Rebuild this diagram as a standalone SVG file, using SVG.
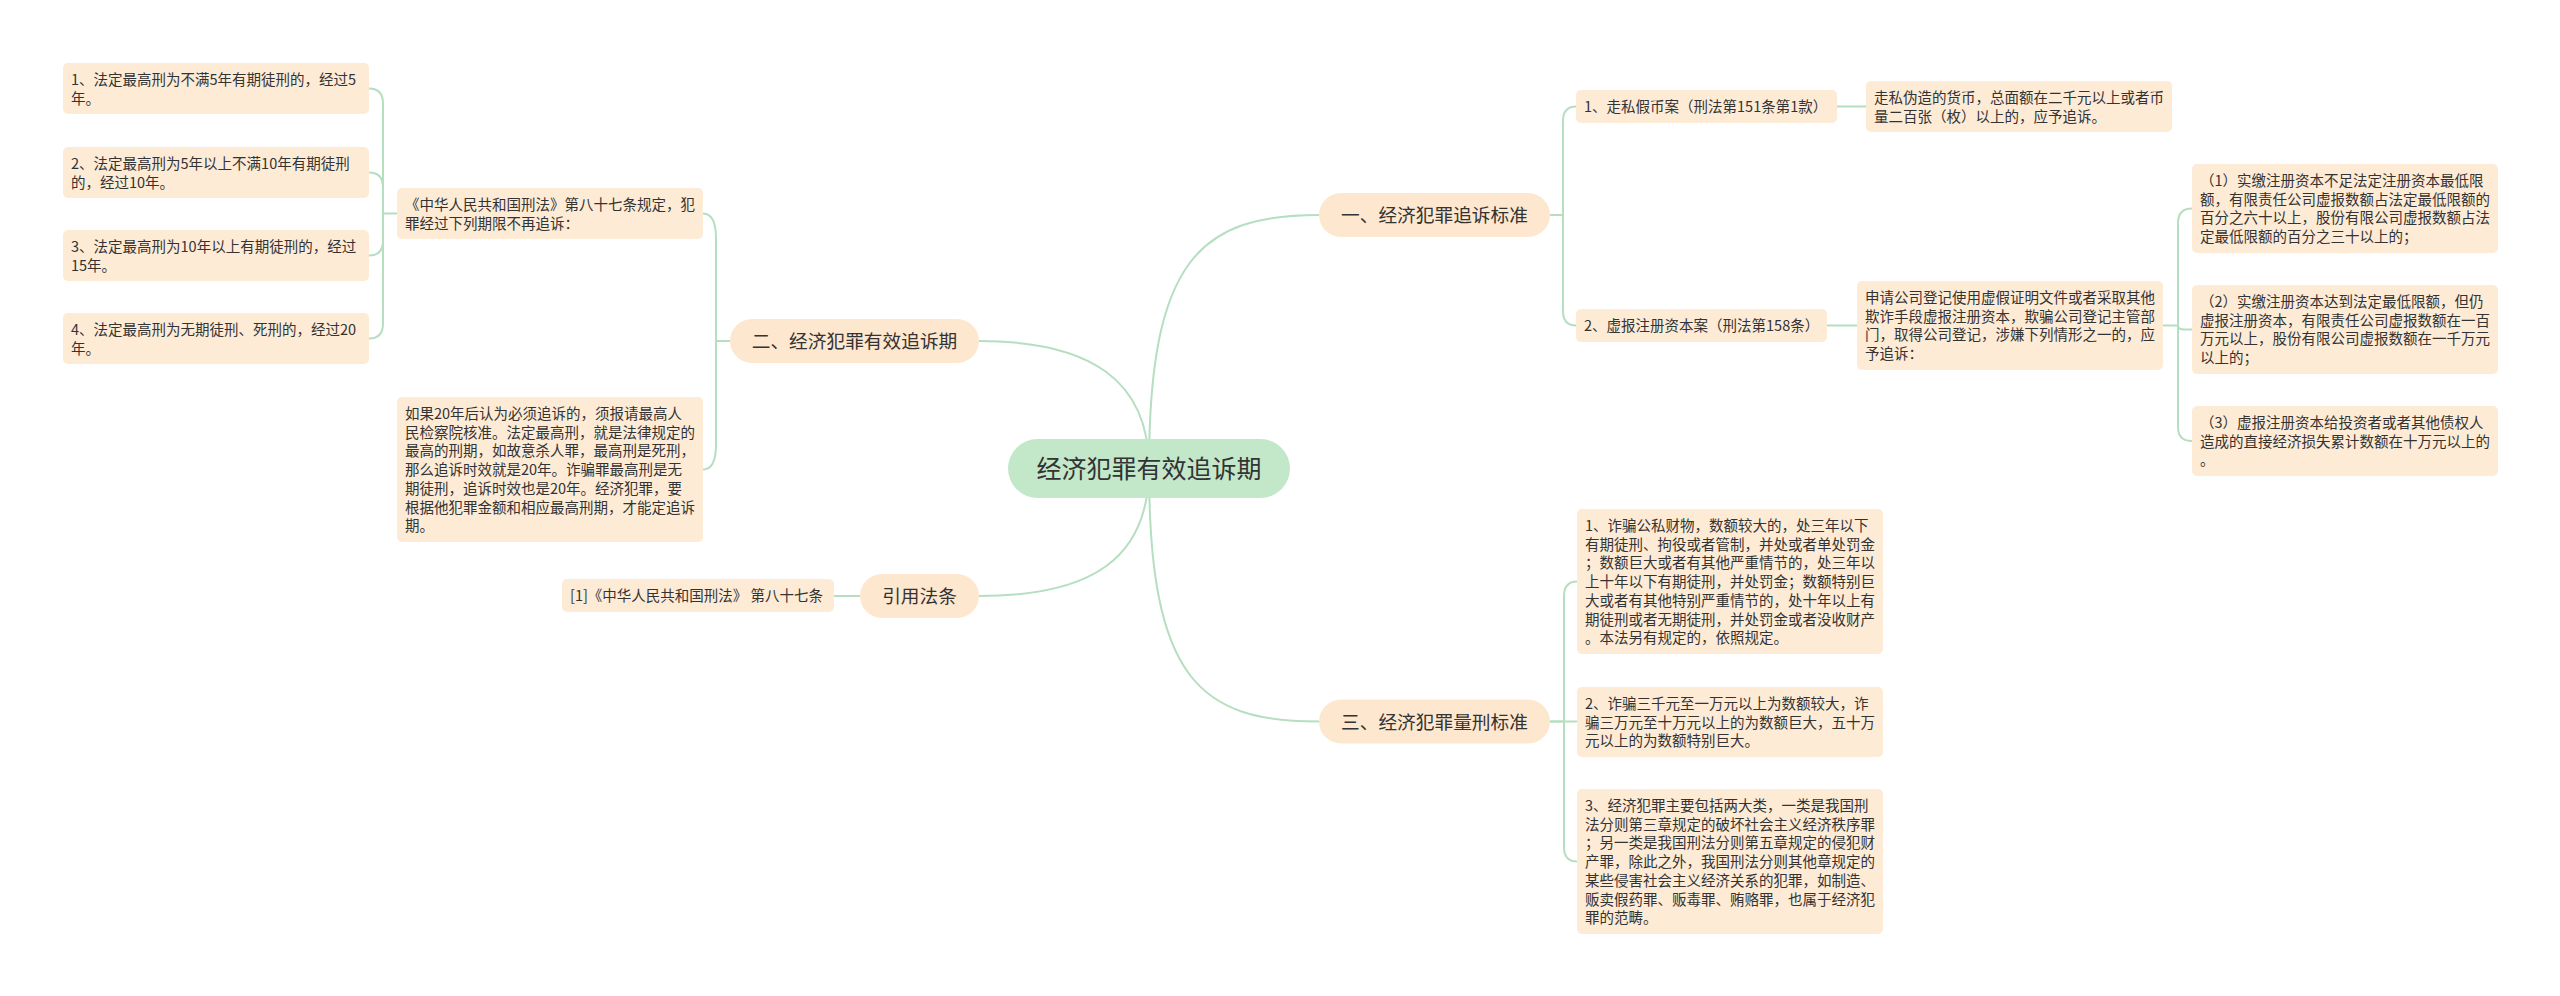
<svg xmlns="http://www.w3.org/2000/svg" width="2560" height="996" viewBox="0 0 2560 996">
<style>
text{font-family:"Noto Sans CJK SC","Noto Sans",sans-serif;fill:#333333}
.leaf{fill:#fdebd6}
.br{fill:#fde7cf}
.root{fill:#c3e8c9}
.lt{font-size:14.5px}
.bt{font-size:18.7px;text-anchor:middle}
.rt{font-size:25px;text-anchor:middle}
.c{fill:none;stroke:#b5dfc0;stroke-width:2}
</style>
<rect width="2560" height="996" fill="#ffffff"/>
<g id="connectors">
<path class="c" d="M1149 468 C1149 260 1200 215 1319 215"/>
<path class="c" d="M1149 468 C1149 380 1090 341 979 341"/>
<path class="c" d="M1149 468 C1149 560 1090 596 979 596"/>
<path class="c" d="M1149 468 C1149 680 1200 721.5 1319 721.5"/>
<path class="c" d="M1550 215 H1563 V121 Q1563 106.5 1576 106.5"/>
<path class="c" d="M1550 215 H1563 V311 Q1563 325.5 1576 325.5"/>
<path class="c" d="M1837 106.5 H1866"/>
<path class="c" d="M1827 325.5 H1857"/>
<path class="c" d="M2163 325.5 H2178 V223 Q2178 208.5 2192 208.5"/>
<path class="c" d="M2178 325.5 Q2178 329.5 2184 329.5 H2192"/>
<path class="c" d="M2178 325.5 V427 Q2178 441 2192 441"/>
<path class="c" d="M1550 721.5 H1564 V596 Q1564 581.5 1577 581.5"/>
<path class="c" d="M1550 721.5 H1577"/>
<path class="c" d="M1564 721.5 V847 Q1564 861.5 1577 861.5"/>
<path class="c" d="M730 341 H716 V238.5 Q716 213.5 703 213.5"/>
<path class="c" d="M716 341 V444.5 Q716 469.5 703 469.5"/>
<path class="c" d="M397 213.5 H383 V103.5 Q383 88.5 369 88.5"/>
<path class="c" d="M383 213.5 V187.5 Q383 172.5 369 172.5"/>
<path class="c" d="M383 213.5 V240.5 Q383 255.5 369 255.5"/>
<path class="c" d="M383 213.5 V323.5 Q383 338.5 369 338.5"/>
<path class="c" d="M860 596 H834"/>
</g>
<g id="root">
<rect class="root" x="1008" y="439" width="282" height="59" rx="29.5"/>
<text class="rt" x="1149" y="478">经济犯罪有效追诉期</text>
</g>
<g id="b1">
<rect class="br" x="1319" y="193" width="231" height="44" rx="22"/>
<text class="bt" x="1434.5" y="222">一、经济犯罪追诉标准</text>
</g>
<g id="b2">
<rect class="br" x="730" y="319" width="249" height="44" rx="22"/>
<text class="bt" x="854.5" y="348">二、经济犯罪有效追诉期</text>
</g>
<g id="b3">
<rect class="br" x="860" y="574" width="119" height="44" rx="22"/>
<text class="bt" x="919.5" y="603">引用法条</text>
</g>
<g id="b4">
<rect class="br" x="1319" y="699.5" width="231" height="44" rx="22"/>
<text class="bt" x="1434.5" y="728.5">三、经济犯罪量刑标准</text>
</g>
<g id="l1">
<rect class="leaf" x="63" y="63" width="306" height="51" rx="5"/>
<text class="lt"><tspan x="71" y="85">1、法定最高刑为不满5年有期徒刑的，经过5</tspan><tspan x="71" y="103.7">年。</tspan></text>
</g>
<g id="l2">
<rect class="leaf" x="63" y="147" width="306" height="51" rx="5"/>
<text class="lt"><tspan x="71" y="169">2、法定最高刑为5年以上不满10年有期徒刑</tspan><tspan x="71" y="187.7">的，经过10年。</tspan></text>
</g>
<g id="l3">
<rect class="leaf" x="63" y="230" width="306" height="51" rx="5"/>
<text class="lt"><tspan x="71" y="252">3、法定最高刑为10年以上有期徒刑的，经过</tspan><tspan x="71" y="270.7">15年。</tspan></text>
</g>
<g id="l4">
<rect class="leaf" x="63" y="313" width="306" height="51" rx="5"/>
<text class="lt"><tspan x="71" y="335">4、法定最高刑为无期徒刑、死刑的，经过20</tspan><tspan x="71" y="353.7">年。</tspan></text>
</g>
<g id="l5">
<rect class="leaf" x="397" y="188" width="306" height="51" rx="5"/>
<text class="lt"><tspan x="405" y="210">《中华人民共和国刑法》第八十七条规定，犯</tspan><tspan x="405" y="228.7">罪经过下列期限不再追诉：</tspan></text>
</g>
<g id="l6">
<rect class="leaf" x="397" y="397" width="306" height="145" rx="5"/>
<text class="lt"><tspan x="405" y="419">如果20年后认为必须追诉的，须报请最高人</tspan><tspan x="405" y="437.7">民检察院核准。法定最高刑，就是法律规定的</tspan><tspan x="405" y="456.4">最高的刑期，如故意杀人罪，最高刑是死刑，</tspan><tspan x="405" y="475.1">那么追诉时效就是20年。诈骗罪最高刑是无</tspan><tspan x="405" y="493.8">期徒刑，追诉时效也是20年。经济犯罪，要</tspan><tspan x="405" y="512.5">根据他犯罪金额和相应最高刑期，才能定追诉</tspan><tspan x="405" y="531.2">期。</tspan></text>
</g>
<g id="l7">
<rect class="leaf" x="562" y="579" width="272" height="33" rx="5"/>
<text class="lt"><tspan x="570" y="601">[1]《中华人民共和国刑法》 第八十七条</tspan></text>
</g>
<g id="r1">
<rect class="leaf" x="1576" y="90" width="261" height="33" rx="5"/>
<text class="lt"><tspan x="1584" y="112">1、走私假币案（刑法第151条第1款）</tspan></text>
</g>
<g id="r1a">
<rect class="leaf" x="1866" y="81" width="306" height="51" rx="5"/>
<text class="lt"><tspan x="1874" y="103">走私伪造的货币，总面额在二千元以上或者币</tspan><tspan x="1874" y="121.7">量二百张（枚）以上的，应予追诉。</tspan></text>
</g>
<g id="r2">
<rect class="leaf" x="1576" y="309" width="251" height="33" rx="5"/>
<text class="lt"><tspan x="1584" y="331">2、虚报注册资本案（刑法第158条）</tspan></text>
</g>
<g id="r2a">
<rect class="leaf" x="1857" y="281" width="306" height="89" rx="5"/>
<text class="lt"><tspan x="1865" y="303">申请公司登记使用虚假证明文件或者采取其他</tspan><tspan x="1865" y="321.7">欺诈手段虚报注册资本，欺骗公司登记主管部</tspan><tspan x="1865" y="340.4">门，取得公司登记，涉嫌下列情形之一的，应</tspan><tspan x="1865" y="359.1">予追诉：</tspan></text>
</g>
<g id="r2b">
<rect class="leaf" x="2192" y="164" width="306" height="89" rx="5"/>
<text class="lt"><tspan x="2200" y="186">（1）实缴注册资本不足法定注册资本最低限</tspan><tspan x="2200" y="204.7">额，有限责任公司虚报数额占法定最低限额的</tspan><tspan x="2200" y="223.4">百分之六十以上，股份有限公司虚报数额占法</tspan><tspan x="2200" y="242.1">定最低限额的百分之三十以上的；</tspan></text>
</g>
<g id="r2c">
<rect class="leaf" x="2192" y="285" width="306" height="89" rx="5"/>
<text class="lt"><tspan x="2200" y="307">（2）实缴注册资本达到法定最低限额，但仍</tspan><tspan x="2200" y="325.7">虚报注册资本，有限责任公司虚报数额在一百</tspan><tspan x="2200" y="344.4">万元以上，股份有限公司虚报数额在一千万元</tspan><tspan x="2200" y="363.1">以上的；</tspan></text>
</g>
<g id="r2d">
<rect class="leaf" x="2192" y="406" width="306" height="70" rx="5"/>
<text class="lt"><tspan x="2200" y="428">（3）虚报注册资本给投资者或者其他债权人</tspan><tspan x="2200" y="446.7">造成的直接经济损失累计数额在十万元以上的</tspan><tspan x="2200" y="465.4">。</tspan></text>
</g>
<g id="s1">
<rect class="leaf" x="1577" y="509" width="306" height="145" rx="5"/>
<text class="lt"><tspan x="1585" y="531">1、诈骗公私财物，数额较大的，处三年以下</tspan><tspan x="1585" y="549.7">有期徒刑、拘役或者管制，并处或者单处罚金</tspan><tspan x="1585" y="568.4">；数额巨大或者有其他严重情节的，处三年以</tspan><tspan x="1585" y="587.1">上十年以下有期徒刑，并处罚金；数额特别巨</tspan><tspan x="1585" y="605.8">大或者有其他特别严重情节的，处十年以上有</tspan><tspan x="1585" y="624.5">期徒刑或者无期徒刑，并处罚金或者没收财产</tspan><tspan x="1585" y="643.2">。本法另有规定的，依照规定。</tspan></text>
</g>
<g id="s2">
<rect class="leaf" x="1577" y="687" width="306" height="70" rx="5"/>
<text class="lt"><tspan x="1585" y="709">2、诈骗三千元至一万元以上为数额较大，诈</tspan><tspan x="1585" y="727.7">骗三万元至十万元以上的为数额巨大，五十万</tspan><tspan x="1585" y="746.4">元以上的为数额特别巨大。</tspan></text>
</g>
<g id="s3">
<rect class="leaf" x="1577" y="789" width="306" height="145" rx="5"/>
<text class="lt"><tspan x="1585" y="811">3、经济犯罪主要包括两大类，一类是我国刑</tspan><tspan x="1585" y="829.7">法分则第三章规定的破坏社会主义经济秩序罪</tspan><tspan x="1585" y="848.4">；另一类是我国刑法分则第五章规定的侵犯财</tspan><tspan x="1585" y="867.1">产罪，除此之外，我国刑法分则其他章规定的</tspan><tspan x="1585" y="885.8">某些侵害社会主义经济关系的犯罪，如制造、</tspan><tspan x="1585" y="904.5">贩卖假药罪、贩毒罪、贿赂罪，也属于经济犯</tspan><tspan x="1585" y="923.2">罪的范畴。</tspan></text>
</g>
</svg>
